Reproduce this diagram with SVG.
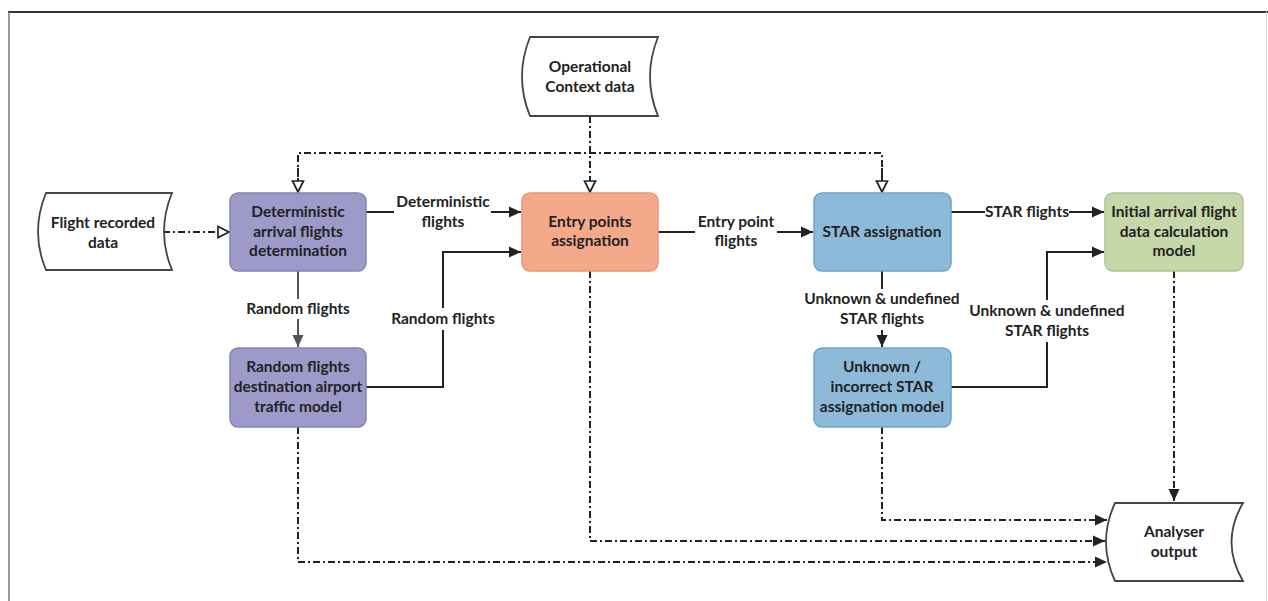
<svg xmlns="http://www.w3.org/2000/svg" width="1268" height="601" viewBox="0 0 1268 601">
<defs>
<style>
.t{font-family:Lato,"Liberation Sans",sans-serif;font-weight:bold;font-size:15.5px;fill:#222;text-anchor:middle}
.box{stroke-width:1.5}
.purple{fill:#9d99c9;stroke:#8783b7}
.orange{fill:#f5a98b;stroke:#e9967a}
.blue{fill:#8ebad9;stroke:#6fa2c7}
.green{fill:#c6d7a9;stroke:#aec48e}
.doc{fill:#fff;stroke:#444;stroke-width:1.8}
.solid{fill:none;stroke:#222;stroke-width:2}
.gsolid{fill:none;stroke:#555;stroke-width:2}
.dd{fill:none;stroke:#222;stroke-width:2;stroke-dasharray:7 3 2 3}
</style>
<marker id="open" markerWidth="14" markerHeight="14" refX="12" refY="7" orient="auto" markerUnits="userSpaceOnUse">
<path d="M1,1.5 L12,7 L1,12.5 Z" fill="#fff" stroke="#222" stroke-width="1.7"/>
</marker>
<marker id="fill" markerWidth="13" markerHeight="12" refX="12" refY="6" orient="auto" markerUnits="userSpaceOnUse">
<path d="M0,0.5 L12,6 L0,11.5 Z" fill="#222"/>
</marker>
<marker id="gfill" markerWidth="13" markerHeight="12" refX="12" refY="6" orient="auto" markerUnits="userSpaceOnUse">
<path d="M0,0.5 L12,6 L0,11.5 Z" fill="#555"/>
</marker>
</defs>
<rect width="1268" height="601" fill="#fff"/>
<g id="frame">
<line x1="8" y1="12" x2="1268" y2="12" stroke="#333" stroke-width="2"/>
<line x1="9" y1="12" x2="9" y2="601" stroke="#777" stroke-width="1.5"/>
<line x1="1266.5" y1="12" x2="1266.5" y2="601" stroke="#ddd" stroke-width="1"/>
</g>
<g id="connectors">
<path class="dd" d="M163,232 H229" marker-end="url(#open)"/>
<path class="dd" d="M590,116 V192" marker-end="url(#open)"/>
<path class="dd" d="M298,192 V153 H882 V192" />
<path class="dd" d="M298,168 V192" marker-end="url(#open)"/>
<path class="dd" d="M882,168 V192" marker-end="url(#open)"/>
<path class="solid" d="M366,212 H394"/>
<path class="solid" d="M491,212 H521" marker-end="url(#fill)"/>
<path class="gsolid" d="M298,271 V299"/>
<path class="gsolid" d="M298,319 V347" marker-end="url(#gfill)"/>
<path class="solid" d="M366,387 H443 V330"/>
<path class="solid" d="M443,308 V252 H521" marker-end="url(#fill)"/>
<path class="solid" d="M658,232 H695"/>
<path class="solid" d="M777,232 H813" marker-end="url(#fill)"/>
<path class="solid" d="M951,212 H985"/>
<path class="solid" d="M1069,212 H1104" marker-end="url(#fill)"/>
<path class="solid" d="M882,271 V289"/>
<path class="solid" d="M882,330 V347" marker-end="url(#fill)"/>
<path class="solid" d="M951,387 H1047 V342"/>
<path class="solid" d="M1047,300 V252 H1104" marker-end="url(#fill)"/>
<path class="dd" d="M1174,271 V501" marker-end="url(#fill)"/>
<path class="dd" d="M882,427 V520 H1107" marker-end="url(#fill)"/>
<path class="dd" d="M590,271 V541 H1105" marker-end="url(#fill)"/>
<path class="dd" d="M298,427 V562 H1107" marker-end="url(#fill)"/>
</g>
<g id="labels">
<text class="t" x="443" y="207">Deterministic</text>
<text class="t" x="443" y="227">flights</text>
<text class="t" x="298" y="314">Random flights</text>
<text class="t" x="443" y="324">Random flights</text>
<text class="t" x="736" y="227">Entry point</text>
<text class="t" x="736" y="246">flights</text>
<text class="t" x="1027" y="217">STAR flights</text>
<text class="t" x="882" y="304">Unknown &amp; undefined</text>
<text class="t" x="882" y="324">STAR flights</text>
<text class="t" x="1047" y="316">Unknown &amp; undefined</text>
<text class="t" x="1047" y="336">STAR flights</text>
</g>
<g id="flight-recorded-data">
<path class="doc" d="M46,193 H172 Q156,232 172,270 H46 Q30,232 46,193 Z"/>
<text class="t" x="103" y="228">Flight recorded</text>
<text class="t" x="103" y="248">data</text>
</g>
<g id="operational-context-data">
<path class="doc" d="M530,37 H658 Q642,77 658,116 H530 Q514,77 530,37 Z"/>
<text class="t" x="590" y="72">Operational</text>
<text class="t" x="590" y="92">Context data</text>
</g>
<g id="deterministic">
<rect class="box purple" x="230" y="193" width="136" height="78" rx="8"/>
<text class="t" x="298" y="217">Deterministic</text>
<text class="t" x="298" y="237">arrival flights</text>
<text class="t" x="298" y="256">determination</text>
</g>
<g id="random-model">
<rect class="box purple" x="230" y="348" width="136" height="79" rx="8"/>
<text class="t" x="298" y="372">Random flights</text>
<text class="t" x="298" y="392">destination airport</text>
<text class="t" x="298" y="412">traffic model</text>
</g>
<g id="entry-points">
<rect class="box orange" x="522" y="193" width="136" height="78" rx="8"/>
<text class="t" x="590" y="227">Entry points</text>
<text class="t" x="590" y="246">assignation</text>
</g>
<g id="star-assignation">
<rect class="box blue" x="814" y="193" width="137" height="78" rx="8"/>
<text class="t" x="882" y="237">STAR assignation</text>
</g>
<g id="initial-arrival">
<rect class="box green" x="1105" y="193" width="138" height="78" rx="8"/>
<text class="t" x="1174" y="217">Initial arrival flight</text>
<text class="t" x="1174" y="237">data calculation</text>
<text class="t" x="1174" y="256">model</text>
</g>
<g id="unknown-star">
<rect class="box blue" x="814" y="348" width="137" height="79" rx="8"/>
<text class="t" x="882" y="372">Unknown /</text>
<text class="t" x="882" y="392">incorrect STAR</text>
<text class="t" x="882" y="412">assignation model</text>
</g>
<g id="analyser-output">
<path class="doc" d="M1115,503 H1243 Q1220,542 1243,581 H1115 Q1097,542 1115,503 Z"/>
<text class="t" x="1174" y="537">Analyser</text>
<text class="t" x="1174" y="557">output</text>
</g>
</svg>
